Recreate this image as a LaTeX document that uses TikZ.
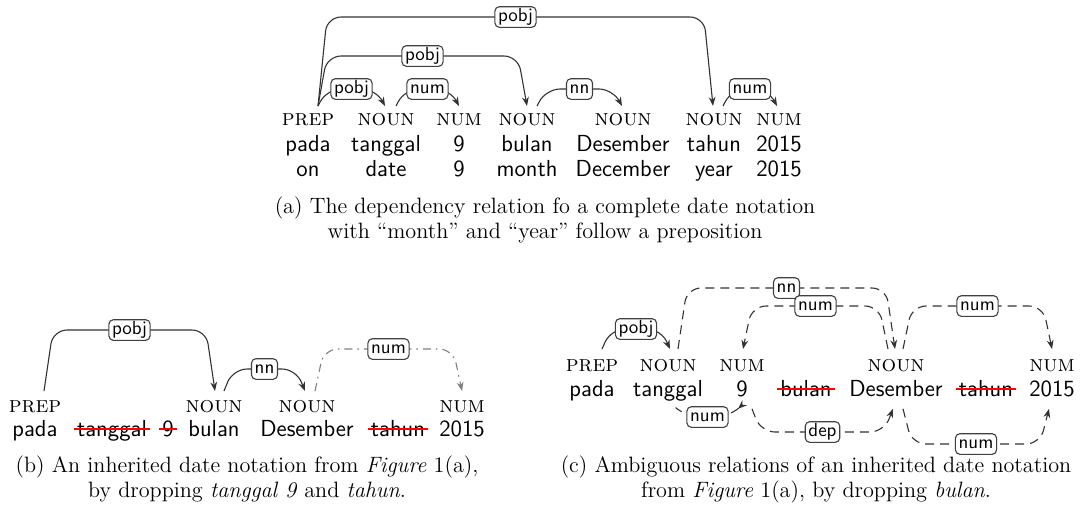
\documentclass[tikz,border=0pt]{standalone}
\usepackage{fontspec}
\usetikzlibrary{arrows.meta,calc}
\newcommand{\darc}[8][]{%
  \coordinate (s) at ($(#2)+(#3,#6)$);
  \coordinate (e) at ($(#4)+(#5,#6)$);
  \coordinate (l) at (0,#7);
  \draw[deparrow,#1] (s) -- ($(s |- l)!4.5pt!(e |- l)$) -- ($(e |- l)!4.5pt!(s |- l)$) node[lab,midway] {#8} -- (e);
}
\newcommand{\strk}[1]{\draw[strike] ($(#1.base west)+(-3,-7)$) -- ($(#1.base east)+(3,-7)$);}
\begin{document}
\begin{tikzpicture}[x=0.5pt,y=-0.5pt,
  word/.style={font=\sffamily\fontsize{11.6}{13}\selectfont, anchor=base, inner sep=0pt, text height=8pt, text depth=2.2pt},
  tag/.style={font=\fontsize{11.5}{13}\selectfont\scshape, anchor=base, inner sep=0pt, text height=6.3pt, text depth=0pt},
  lab/.style={draw=black!75, solid, fill=white, rounded corners=2.2pt, line width=0.55pt, font=\sffamily\fontsize{9.5}{10}\selectfont, inner xsep=1.6pt, inner ysep=0.9pt, text height=6.6pt, text depth=1.9pt, text=black},
  deparrow/.style={draw=black!80, line width=0.55pt, rounded corners=7pt, -{Stealth[length=4.5pt,width=3.4pt]}},
  dsh/.style={dash pattern=on 4.5pt off 3pt},
  ddot/.style={draw=black!50, dash pattern=on 4pt off 2.5pt on 0.8pt off 2.5pt},
  strike/.style={draw=red, line width=0.7pt},
  capt/.style={font=\fontsize{11.1}{13}\selectfont, anchor=base, inner sep=0pt},
]
\useasboundingbox (0,0) rectangle (1081,510);
% ---------- panel (a)
\node[tag] (aT1) at (308,125) {prep};
\node[tag] (aT2) at (386,125) {noun};
\node[tag] (aT3) at (459,125) {num};
\node[tag] (aT4) at (527,125) {noun};
\node[tag] (aT5) at (623,125) {noun};
\node[tag] (aT6) at (714,125) {noun};
\node[tag] (aT7) at (779,125) {num};
\node[word] (aW1) at (308,151) {pada};
\node[word] (aW2) at (386,151) {tanggal};
\node[word] (aW3) at (459,151) {9};
\node[word] (aW4) at (527,151) {bulan};
\node[word] (aW5) at (623,151) {Desember};
\node[word] (aW6) at (714,151) {tahun};
\node[word] (aW7) at (779,151) {2015};
\node[word] (aE1) at (308,176) {on};
\node[word] (aE2) at (386,176) {date};
\node[word] (aE3) at (459,176) {9};
\node[word] (aE4) at (527,176) {month};
\node[word] (aE5) at (623,176) {December};
\node[word] (aE6) at (714,176) {year};
\node[word] (aE7) at (779,176) {2015};
\darc{aT1.north}{10}{aT6.north}{-1}{-6}{17}{pobj}
\darc{aT1.north}{10}{aT4.north}{0}{-6}{56}{pobj}
\darc{aT1.north}{10}{aT2.north}{-1}{-6}{89}{pobj}
\darc{aT2.north}{10}{aT3.north}{0}{-6}{89}{num}
\darc{aT4.north}{10}{aT5.north}{-1}{-6}{89}{nn}
\darc{aT6.north}{9}{aT7.north}{-2}{-6}{89}{num}
\node[capt] (capA1) at (545,213) {(a) The dependency relation fo a complete date notation};
\node[capt] (capA2) at (545,238) {with ``month'' and ``year'' follow a preposition};
% ---------- panel (b)
\node[tag] (bT1) at (35,412) {prep};
\node[tag] (bT4) at (214,412) {noun};
\node[tag] (bT5) at (307,412) {noun};
\node[tag] (bT7) at (462,412) {num};
\node[word] (bW1) at (35,436) {pada};
\node[word] (bW2) at (112,436) {tanggal};
\node[word] (bW3) at (168,436) {9};
\node[word] (bW4) at (214,436) {bulan};
\node[word] (bW5) at (307,436) {Desember};
\node[word] (bW6) at (398,436) {tahun};
\node[word] (bW7) at (462,436) {2015};
\strk{bW2}\strk{bW3}\strk{bW6}
\darc{bT1.north}{9}{bT4.north}{1}{-8}{330}{pobj}
\darc{bT4.north}{10}{bT5.north}{-2}{-8}{369}{nn}
\darc[ddot]{bT5.north}{8}{bT7.north}{0}{-8}{349}{num}
\node[capt] (capB1) at (247,472) {(b) An inherited date notation from \emph{Figure} 1(a),};
\node[capt] (capB2) at (247,497) {by dropping \emph{tanggal 9} and \emph{tahun}.};
% ---------- panel (c)
\node[tag] (cT1) at (592,371) {prep};
\node[tag] (cT2) at (668,371) {noun};
\node[tag] (cT3) at (742,371) {num};
\node[tag] (cT5) at (896,371) {noun};
\node[tag] (cT7) at (1052,371) {num};
\node[word] (cW1) at (592,396) {pada};
\node[word] (cW2) at (668,396) {tanggal};
\node[word] (cW3) at (742,396) {9};
\node[word] (cW4) at (806,396) {bulan};
\node[word] (cW5) at (896,396) {Desember};
\node[word] (cW6) at (986,396) {tahun};
\node[word] (cW7) at (1052,396) {2015};
\strk{cW4}\strk{cW6}
\darc{cT1.north}{10}{cT2.north}{2}{-9}{329}{pobj}
\darc[dsh]{cT2.north}{10}{cT5.north}{-1}{-9}{288}{nn}
\darc[dsh]{cT5.north}{-8}{cT3.north}{1}{-9}{306}{num}
\darc[dsh]{cT5.north}{7}{cT7.north}{0}{-9}{306}{num}
\darc[dsh]{cW2.south}{9}{cW3.south}{-4}{8}{417}{num}
\darc[dsh]{cW3.south}{10}{cW5.south}{-3}{8}{432}{dep}
\darc[dsh]{cW5.south}{7}{cW7.south}{-3}{8}{444}{num}
\node[capt] (capC1) at (816,472) {(c) Ambiguous relations of an inherited date notation};
\node[capt] (capC2) at (816,497) {from \emph{Figure} 1(a), by dropping \emph{bulan}.};
\end{tikzpicture}
\end{document}
